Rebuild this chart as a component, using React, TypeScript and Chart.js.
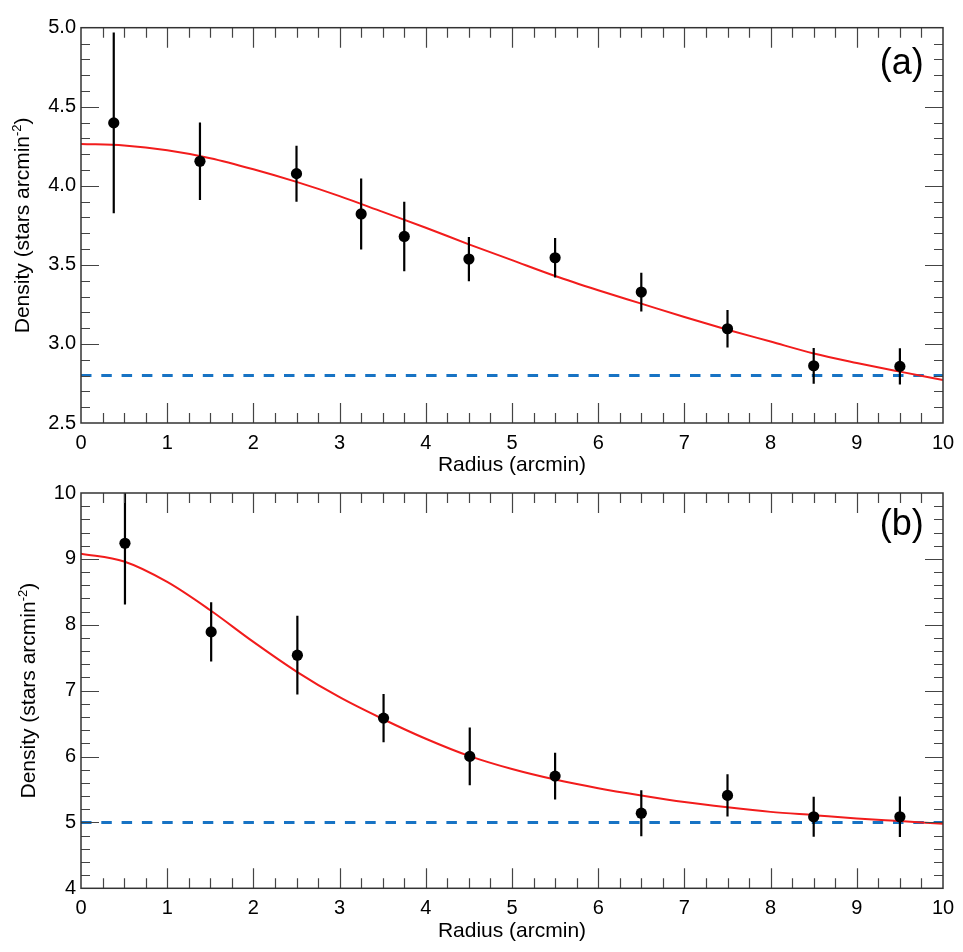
import { useEffect, useRef } from 'react';
import { Chart, registerables } from 'chart.js';

Chart.register(...registerables);

Chart.defaults.font.family = "'Liberation Sans', Arial, Helvetica, sans-serif";
Chart.defaults.color = '#000';

// panel (a)
const radiusA = [0.38, 1.38, 2.5, 3.25, 3.75, 4.5, 5.5, 6.5, 7.5, 8.5, 9.5];
const densityA = [4.398, 4.155, 4.077, 3.822, 3.68, 3.537, 3.545, 3.328, 3.096, 2.862, 2.858];
const errorA = [0.572, 0.245, 0.177, 0.225, 0.22, 0.14, 0.125, 0.123, 0.118, 0.113, 0.114];
const fitRadius = [0, 0.5, 1, 1.5, 2, 2.5, 3, 3.5, 4, 4.5, 5, 5.5, 6, 6.5, 7, 7.5, 8, 8.5, 9, 9.5, 10];
const fitA = [4.265, 4.255, 4.225, 4.175, 4.105, 4.025, 3.935, 3.835, 3.735, 3.63, 3.53, 3.43, 3.34, 3.255, 3.17, 3.09, 3.015, 2.94, 2.88, 2.825, 2.772];
const backgroundA = 2.8;

// panel (b)
const radiusB = [0.51, 1.51, 2.51, 3.51, 4.51, 5.5, 6.5, 7.5, 8.5, 9.5];
const densityB = [9.237, 7.892, 7.538, 6.583, 6.002, 5.703, 5.14, 5.41, 5.086, 5.086];
const errorB = [0.93, 0.45, 0.597, 0.366, 0.437, 0.356, 0.35, 0.32, 0.304, 0.306];
const fitB = [9.08, 8.96, 8.65, 8.22, 7.74, 7.29, 6.9, 6.57, 6.27, 6.01, 5.81, 5.65, 5.52, 5.41, 5.31, 5.23, 5.16, 5.11, 5.06, 5.02, 4.98];
const backgroundB = 5.0;

const xTicks = [0, 1, 2, 3, 4, 5, 6, 7, 8, 9, 10];

type PanelProps = {
  tag: string;
  radius: number[];
  density: number[];
  error: number[];
  fit: number[];
  background: number;
  yMin: number;
  yMax: number;
  yStep: number;
  yMinor: number;
  yDigits: number;
  padTop: number;
  xHeight: number;
  yTitleX: number;
  tagDy: number;
};

function drawTicks(ctx: CanvasRenderingContext2D, min: number, max: number, step: number, major: number,
  place: (v: number, len: number) => void, majorLen: number, minorLen: number) {
  const n = Math.round((max - min) / step);
  for (let k = 1; k < n; k++) {
    const v = min + k * step;
    const q = v / major;
    const isMajor = Math.abs(q - Math.round(q)) < 1e-6;
    place(v, isMajor ? majorLen : minorLen);
  }
}

function decor(p: PanelProps) {
  return {
    id: 'decor' + p.tag,
    afterDatasetsDraw(chart: any) {
      const { ctx, chartArea: a, scales } = chart;
      const xs = scales.x;
      const ys = scales.y;
      ctx.save();
      ctx.beginPath();
      ctx.rect(a.left, a.top, a.right - a.left, a.bottom - a.top);
      ctx.clip();
      ctx.strokeStyle = '#000';
      ctx.lineWidth = 2.2;
      p.radius.forEach((r, i) => {
        const x = xs.getPixelForValue(r);
        ctx.beginPath();
        ctx.moveTo(x, ys.getPixelForValue(p.density[i] - p.error[i]));
        ctx.lineTo(x, ys.getPixelForValue(p.density[i] + p.error[i]));
        ctx.stroke();
      });
      ctx.restore();
    },
    afterDraw(chart: any) {
      const { ctx, chartArea: a, scales } = chart;
      const xs = scales.x;
      const ys = scales.y;
      ctx.save();
      // ticks on all four sides, pointing inwards
      ctx.strokeStyle = '#444';
      ctx.lineWidth = 1.2;
      ctx.beginPath();
      drawTicks(ctx, 0, 10, 0.25, 1, (v, len) => {
        const x = Math.round(xs.getPixelForValue(v)) + 0.5;
        ctx.moveTo(x, a.bottom); ctx.lineTo(x, a.bottom - len);
        ctx.moveTo(x, a.top); ctx.lineTo(x, a.top + len);
      }, 20, 10);
      drawTicks(ctx, p.yMin, p.yMax, p.yMinor, p.yStep, (v, len) => {
        const y = Math.round(ys.getPixelForValue(v)) + 0.5;
        ctx.moveTo(a.left, y); ctx.lineTo(a.left + len, y);
        ctx.moveTo(a.right, y); ctx.lineTo(a.right - len, y);
      }, 18, 9);
      ctx.stroke();
      // frame
      ctx.strokeStyle = '#333';
      ctx.lineWidth = 1.5;
      ctx.strokeRect(a.left, a.top, a.right - a.left, a.bottom - a.top);

      ctx.fillStyle = '#000';
      // x title
      ctx.font = "21px 'Liberation Sans', Arial, sans-serif";
      ctx.textAlign = 'center';
      ctx.textBaseline = 'middle';
      ctx.fillText('Radius (arcmin)', (a.left + a.right) / 2, a.bottom + 42.7);

      // y title with superscript
      const main = 'Density (stars arcmin';
      const sup = '-2';
      const tail = ')';
      const mainFont = "21px 'Liberation Sans', Arial, sans-serif";
      const supFont = "13px 'Liberation Sans', Arial, sans-serif";
      ctx.font = mainFont;
      const wMain = ctx.measureText(main).width;
      const wTail = ctx.measureText(tail).width;
      ctx.font = supFont;
      const wSup = ctx.measureText(sup).width;
      const total = wMain + wSup + wTail;
      ctx.translate(p.yTitleX, (a.top + a.bottom) / 2);
      ctx.rotate(-Math.PI / 2);
      ctx.textAlign = 'left';
      ctx.textBaseline = 'alphabetic';
      let cx = -total / 2;
      ctx.font = mainFont;
      ctx.fillText(main, cx, 0);
      cx += wMain;
      ctx.font = supFont;
      ctx.fillText(sup, cx, -8);
      cx += wSup;
      ctx.font = mainFont;
      ctx.fillText(tail, cx, 0);
      ctx.setTransform(1, 0, 0, 1, 0, 0);
      ctx.restore();

      // panel tag
      ctx.save();
      ctx.fillStyle = '#000';
      ctx.font = "36px 'Liberation Sans', Arial, sans-serif";
      ctx.textAlign = 'center';
      ctx.textBaseline = 'middle';
      ctx.fillText('(' + p.tag + ')', 901.7, a.top + p.tagDy);
      ctx.restore();
    },
  };
}

function Panel(p: PanelProps) {
  const canvasRef = useRef<HTMLCanvasElement>(null);

  useEffect(() => {
    if (!canvasRef.current) return;
    const points = p.radius.map((r, i) => ({ x: r, y: p.density[i] }));
    const curve = fitRadius.map((r, i) => ({ x: r, y: p.fit[i] }));
    const bg = [{ x: 0, y: p.background }, { x: 10, y: p.background }];
    const chart = new Chart(canvasRef.current, {
      type: 'scatter',
      data: {
        datasets: [
          {
            label: 'Data',
            data: points,
            pointRadius: 5.6,
            pointBackgroundColor: '#000',
            pointBorderWidth: 0,
            showLine: false,
          },
          {
            label: 'King fit',
            data: curve,
            showLine: true,
            pointRadius: 0,
            borderColor: '#f21c1c',
            borderWidth: 2,
            cubicInterpolationMode: 'monotone',
          },
          {
            label: 'Background',
            data: bg,
            showLine: true,
            pointRadius: 0,
            borderColor: '#1773c4',
            borderWidth: 3,
            borderDash: [10.5, 9.8],
          },
        ],
      } as any,
      options: {
        responsive: true,
        maintainAspectRatio: false,
        animation: false,
        layout: { padding: { left: 0, right: 20, top: p.padTop, bottom: 0 } },
        plugins: { legend: { display: false }, tooltip: { enabled: false } },
        scales: {
          x: {
            type: 'linear',
            min: 0,
            max: 10,
            afterFit: (s: any) => { s.height = p.xHeight; },
            afterBuildTicks: (s: any) => { s.ticks = xTicks.map((v) => ({ value: v })); },
            grid: { display: false, drawTicks: false },
            border: { display: false },
            ticks: { font: { size: 20 }, padding: 8.5, maxRotation: 0, autoSkip: false, color: '#000' },
          },
          y: {
            type: 'linear',
            min: p.yMin,
            max: p.yMax,
            afterFit: (s: any) => { s.width = 81; },
            grid: { display: false, drawTicks: false },
            border: { display: false },
            ticks: {
              stepSize: p.yStep,
              font: { size: 20 },
              padding: 5,
              color: '#000',
              callback: (v: any) => Number(v).toFixed(p.yDigits),
            },
          },
        },
      },
      plugins: [decor(p)],
    });
    return () => chart.destroy();
  }, []);

  return (
    <div style={{ position: 'relative', width: 963, height: 476 }}>
      <canvas ref={canvasRef} />
    </div>
  );
}

export default function App() {
  return (
    <div style={{ position: 'absolute', left: 0, top: 0, width: 963, height: 952, background: '#fff' }}>
      <Panel tag="a" radius={radiusA} density={densityA} error={errorA} fit={fitA} background={backgroundA}
        yMin={2.5} yMax={5.0} yStep={0.5} yMinor={0.1} yDigits={1} padTop={27.7} xHeight={53} yTitleX={29} tagDy={36.8} />
      <Panel tag="b" radius={radiusB} density={densityB} error={errorB} fit={fitB} background={backgroundB}
        yMin={4} yMax={10} yStep={1} yMinor={0.2} yDigits={0} padTop={16.7} xHeight={63.7} yTitleX={35} tagDy={31.8} />
    </div>
  );
}
